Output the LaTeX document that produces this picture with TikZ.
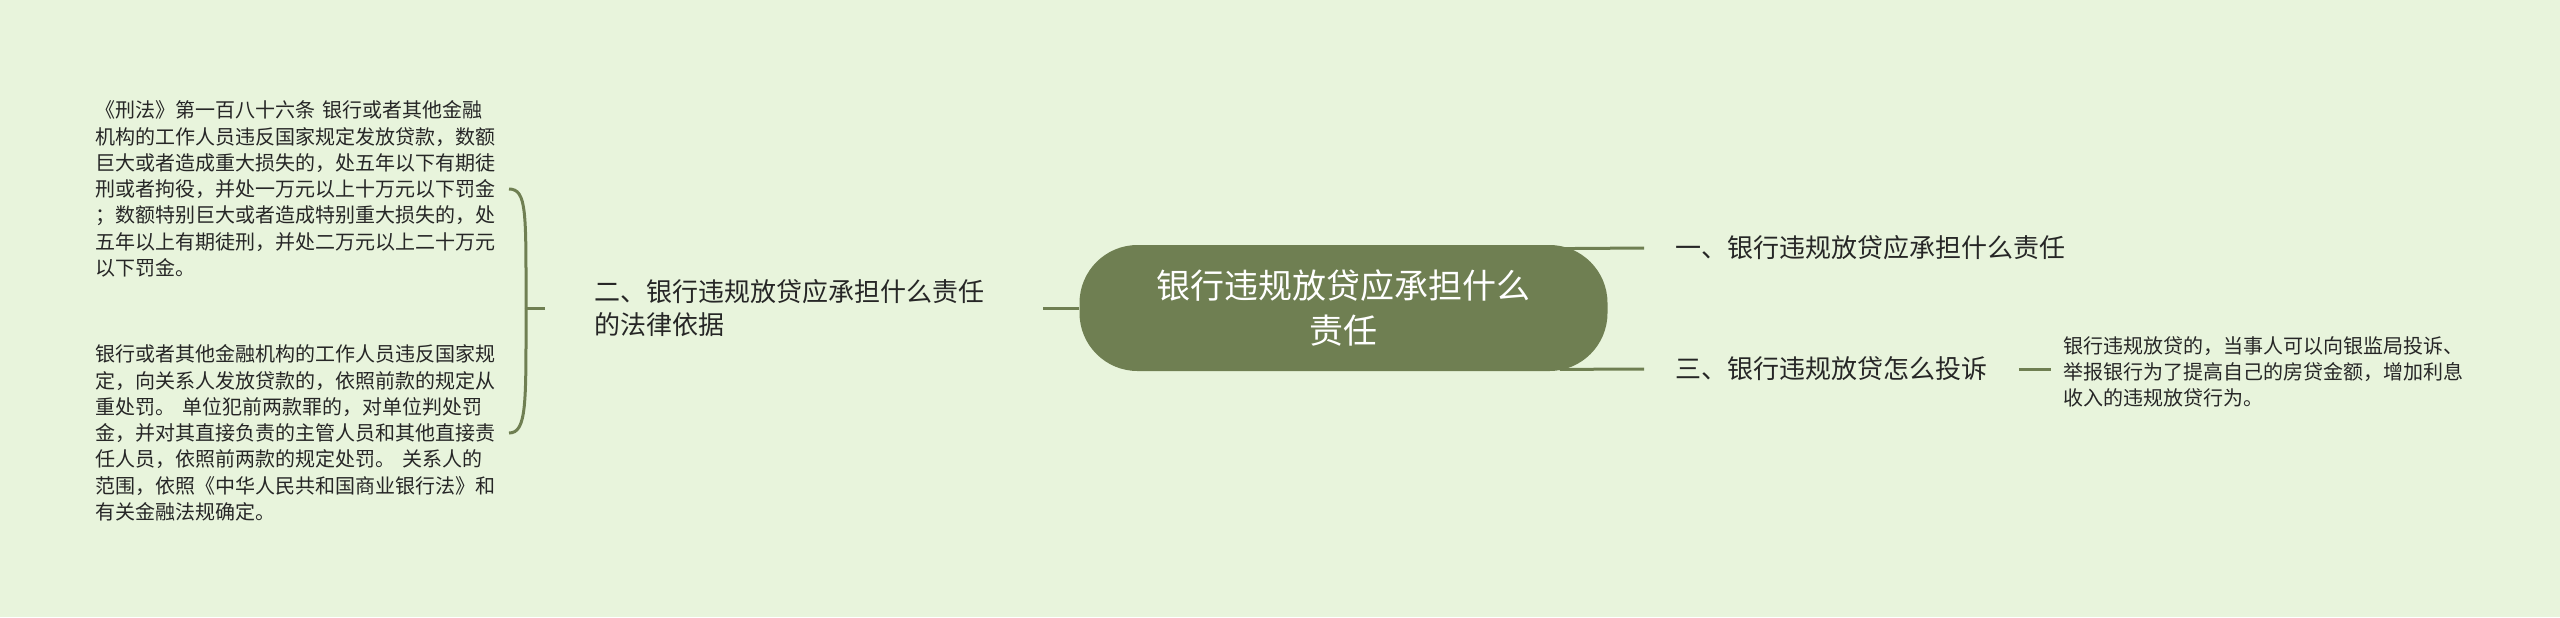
\documentclass[tikz,border=0pt]{standalone}
\usepackage{fontspec}
\setmainfont{Noto Sans CJK SC}
\usetikzlibrary{calc}
\pgfdeclarelayer{bg}
\pgfdeclarelayer{lines}
\pgfsetlayers{bg,lines,main}
\definecolor{bgc}{HTML}{E8F4DC}
\definecolor{nodec}{HTML}{6F7F52}
\definecolor{txt}{HTML}{262626}
\begin{document}
\begin{tikzpicture}[x=0.5pt,y=-0.5pt,
  conn/.style={draw=nodec,line width=1.5pt},
  root/.style={fill=nodec, rounded corners=29pt, minimum width=264pt, minimum height=63pt, inner sep=0pt, text=white, align=center, font=\fontsize{17pt}{22.5pt}\selectfont},
  branch/.style={text=txt, align=left, inner ysep=2pt, font=\fontsize{13pt}{16.5pt}\selectfont},
  leaf/.style={text=txt, align=left, inner ysep=2pt, font=\fontsize{10pt}{13.15pt}\selectfont}]

\begin{pgfonlayer}{bg}
\fill[bgc] (0,0) rectangle (2560,617);
\end{pgfonlayer}
\useasboundingbox (0,0) rectangle (2560,617);

\node[root] (root) at (1343.5,308) {银行违规放贷应承担什么\\责任};

\node[branch, anchor=west, inner xsep=24.5pt, text width=199.5pt] (b2) at (545,308) {二、银行违规放贷应承担什么责任\\的法律依据};

\node[leaf, anchor=east, inner xsep=5.5pt, text width=201pt] (c1) at (509,189) {《刑法》第一百八十六条 银行或者其他金融\\机构的工作人员违反国家规定发放贷款，数额\\巨大或者造成重大损失的，处五年以下有期徒\\刑或者拘役，并处一万元以上十万元以下罚金\\；数额特别巨大或者造成特别重大损失的，处\\五年以上有期徒刑，并处二万元以上二十万元\\以下罚金。};

\node[leaf, anchor=east, inner xsep=5.5pt, text width=201pt] (c2) at (509,433) {银行或者其他金融机构的工作人员违反国家规\\定，向关系人发放贷款的，依照前款的规定从\\重处罚。 单位犯前两款罪的，对单位判处罚\\金，并对其直接负责的主管人员和其他直接责\\任人员，依照前两款的规定处罚。 关系人的\\范围，依照《中华人民共和国商业银行法》和\\有关金融法规确定。};

\node[branch, anchor=west, inner xsep=15.5pt] (b1) at (1644,248) {一、银行违规放贷应承担什么责任};
\node[branch, anchor=west, inner xsep=15.5pt] (b3) at (1644,369) {三、银行违规放贷怎么投诉};

\node[leaf, anchor=west, inner xsep=6pt, text width=201pt] (d3) at (2051,372) {银行违规放贷的，当事人可以向银监局投诉、\\举报银行为了提高自己的房贷金额，增加利息\\收入的违规放贷行为。};

\begin{pgfonlayer}{lines}
\draw[conn] (root.west) -- (b2.east);
\draw[conn] ($(root.north east)+(-48,4)$) -- (b1.west);
\draw[conn] ($(root.south east)+(-48,-2)$) -- (b3.west);
\draw[conn] (b3.east) -- (b3.east -| d3.west);
\draw[conn] (b2.west) -- ++(-19,0) coordinate (bk);
\draw[conn] (bk) .. controls ($(bk)+(0,-95)$) and ($(c1.east)+(18,0)$) .. (c1.east);
\draw[conn] (bk) .. controls ($(bk)+(0,95)$) and ($(c2.east)+(18,0)$) .. (c2.east);
\end{pgfonlayer}
\end{tikzpicture}
\end{document}
